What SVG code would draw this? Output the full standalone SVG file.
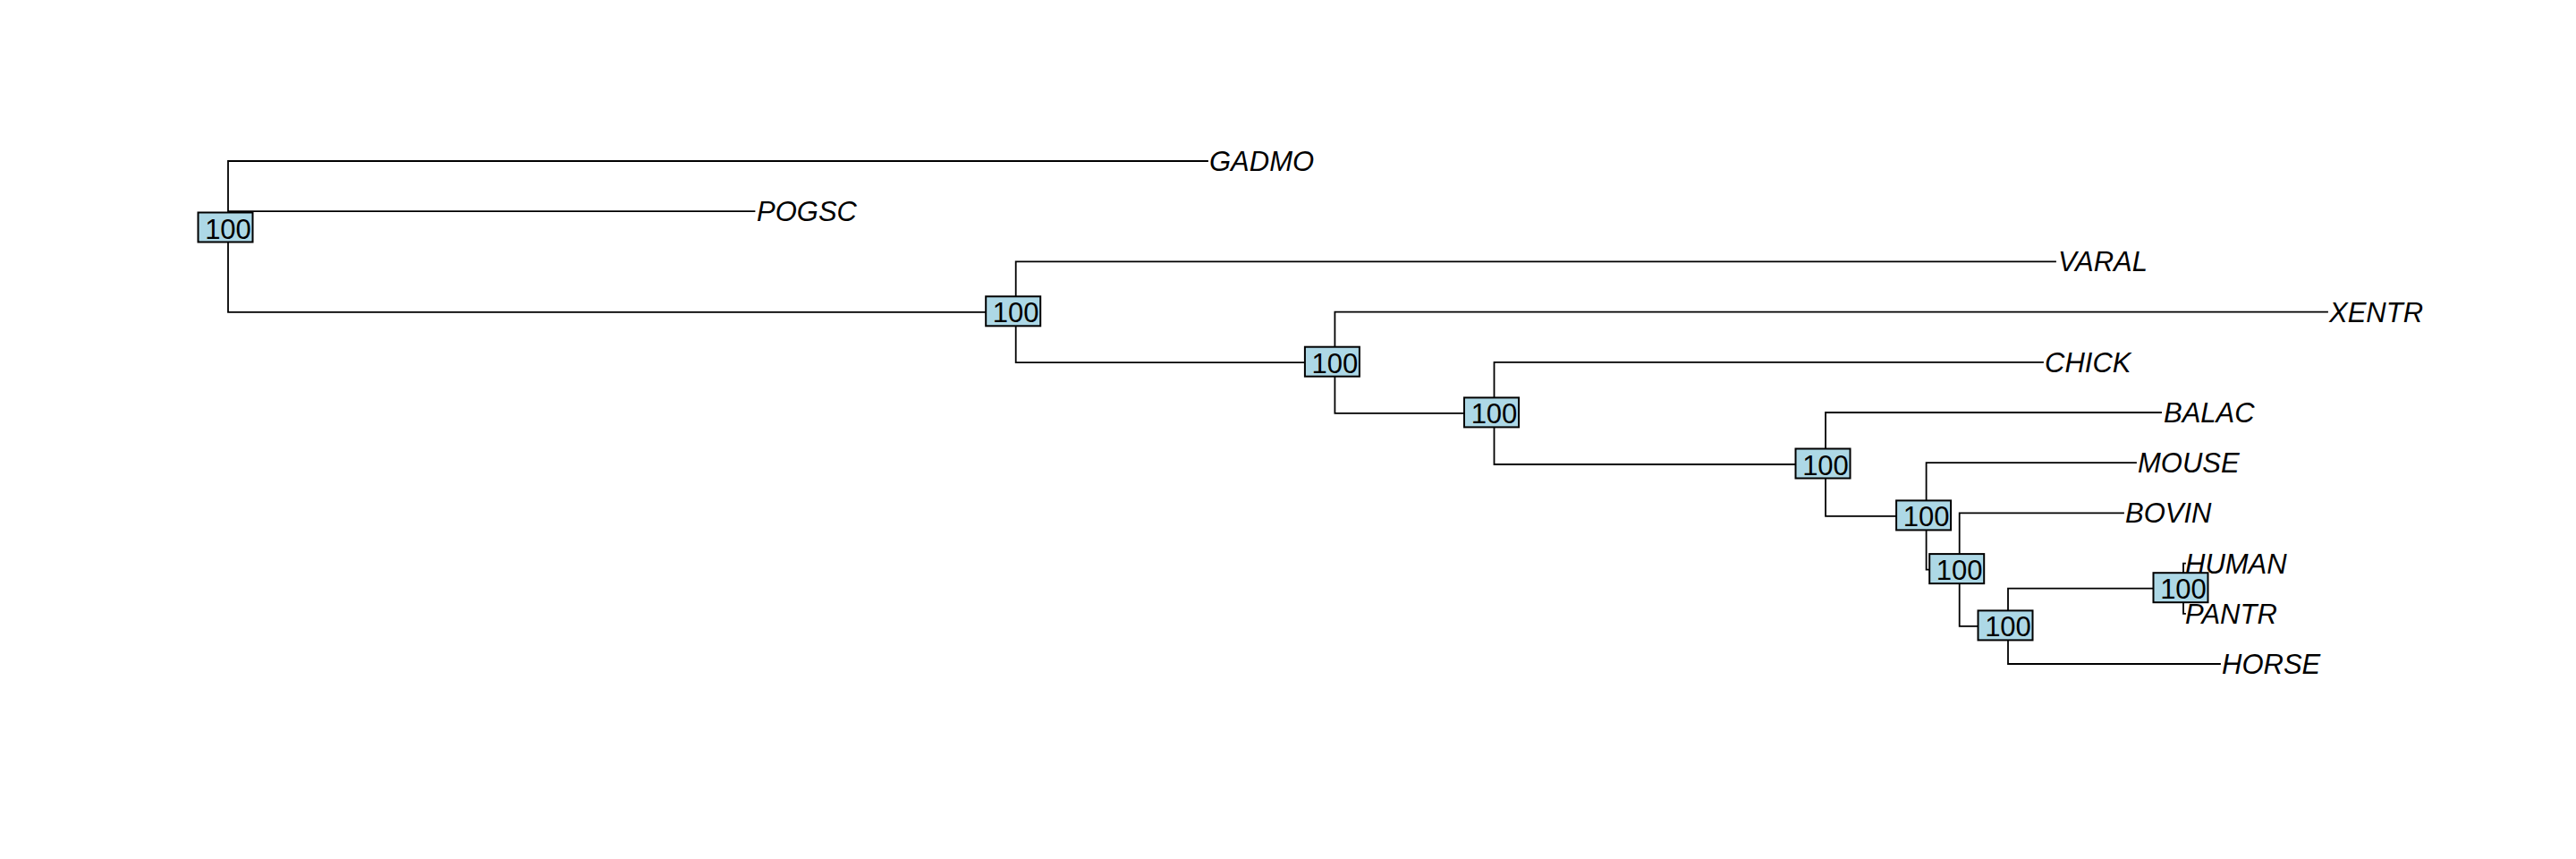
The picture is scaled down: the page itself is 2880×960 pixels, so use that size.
<svg xmlns="http://www.w3.org/2000/svg" width="2880" height="960" viewBox="0 0 2880 960">
<style>
.e{stroke:#000;stroke-width:1.8;fill:none;stroke-linecap:square}
.b{fill:#ADD8E6;stroke:#000;stroke-width:2}
.n{font-family:"Liberation Sans",Arial,sans-serif;font-size:31px;fill:#000;text-anchor:middle}
.t{font-family:"Liberation Sans",Arial,sans-serif;font-size:31px;font-style:italic;fill:#000}
</style>
<rect width="2880" height="960" fill="#fff"/>
<g id="connectors">
<path class="e" d="M255,180V348.8M255,180H1350M255,236.2H843.5M255,348.8H1135.7"/>
<path class="e" d="M1135.7,292.4V405.2M1135.7,292.4H2298M1135.7,405.2H1492.4"/>
<path class="e" d="M1492.4,348.6V461.9M1492.4,348.6H2602M1492.4,461.9H1670.5"/>
<path class="e" d="M1670.5,404.8V519M1670.5,404.8H2284M1670.5,519H2041"/>
<path class="e" d="M2041,461V576.9M2041,461H2416M2041,576.9H2153.6"/>
<path class="e" d="M2153.6,517.2V636.6M2153.6,517.2H2388M2153.6,636.6H2190.7"/>
<path class="e" d="M2190.7,573.4V699.9M2190.7,573.4H2374M2190.7,699.9H2245"/>
<path class="e" d="M2245,657.7V742M2245,657.7H2441M2245,742H2482"/>
<path class="e" d="M2441,629.6V685.8M2441,629.6H2443M2441,685.8H2443"/>
</g>
<g id="node-root"><rect class="b" x="221.5" y="237.5" width="61" height="33"/><text class="n" x="255" y="266.5">100</text></g>
<g id="node-1"><rect class="b" x="1102.2" y="331.3" width="61" height="33"/><text class="n" x="1135.7" y="360.3">100</text></g>
<g id="node-2"><rect class="b" x="1458.9" y="387.7" width="61" height="33"/><text class="n" x="1492.4" y="416.7">100</text></g>
<g id="node-3"><rect class="b" x="1637" y="444.4" width="61" height="33"/><text class="n" x="1670.5" y="473.4">100</text></g>
<g id="node-4"><rect class="b" x="2007.5" y="501.5" width="61" height="33"/><text class="n" x="2041" y="530.5">100</text></g>
<g id="node-5"><rect class="b" x="2120.1" y="559.4" width="61" height="33"/><text class="n" x="2153.6" y="588.4">100</text></g>
<g id="node-6"><rect class="b" x="2157.2" y="619.1" width="61" height="33"/><text class="n" x="2190.7" y="648.1">100</text></g>
<g id="node-7"><rect class="b" x="2211.5" y="682.4" width="61" height="33"/><text class="n" x="2245" y="711.4">100</text></g>
<g id="node-hh"><rect class="b" x="2407.5" y="640.2" width="61" height="33"/><text class="n" x="2441" y="669.2">100</text></g>
<g id="tip-GADMO"><text class="t" x="1352" y="191">GADMO</text></g>
<g id="tip-POGSC"><text class="t" x="846" y="247.2">POGSC</text></g>
<g id="tip-VARAL"><text class="t" x="2301" y="303.4">VARAL</text></g>
<g id="tip-XENTR"><text class="t" x="2604" y="359.6">XENTR</text></g>
<g id="tip-CHICK"><text class="t" x="2286" y="415.8">CHICK</text></g>
<g id="tip-BALAC"><text class="t" x="2419" y="472">BALAC</text></g>
<g id="tip-MOUSE"><text class="t" x="2390" y="528.2">MOUSE</text></g>
<g id="tip-BOVIN"><text class="t" x="2376" y="584.4">BOVIN</text></g>
<g id="tip-HUMAN"><text class="t" x="2443" y="640.6">HUMAN</text></g>
<g id="tip-PANTR"><text class="t" x="2443" y="696.8">PANTR</text></g>
<g id="tip-HORSE"><text class="t" x="2484" y="753">HORSE</text></g>
</svg>
